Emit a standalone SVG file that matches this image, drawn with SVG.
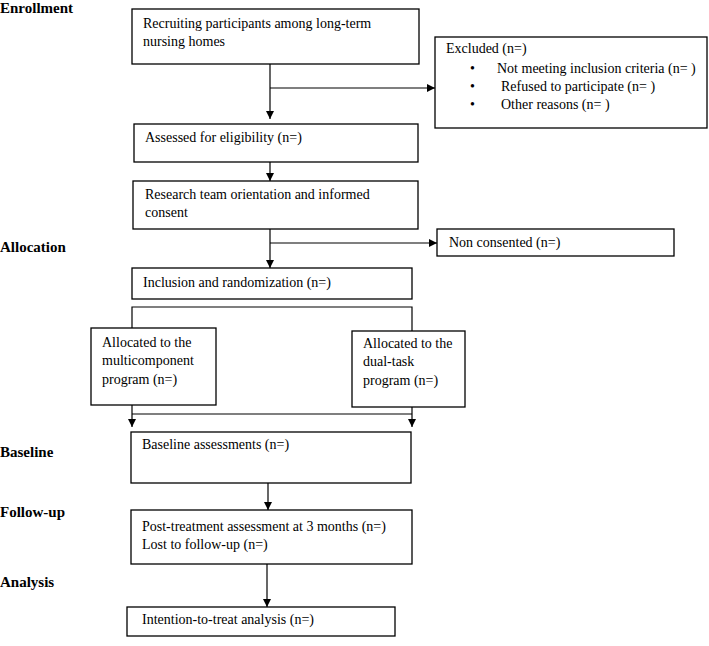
<svg xmlns="http://www.w3.org/2000/svg" width="709" height="646" viewBox="0 0 709 646">
<style>
.box{fill:#fff;stroke:#000;stroke-width:1.3}
.t{font-family:"Liberation Serif","Times New Roman",serif;font-size:14px;fill:#000}
.h{font-family:"Liberation Serif","Times New Roman",serif;font-size:15px;font-weight:bold;fill:#000}
.c{fill:none;stroke:#000;stroke-width:1.2}
</style>
<defs>
<marker id="ah" markerUnits="userSpaceOnUse" markerWidth="9" markerHeight="9" refX="8" refY="4" orient="auto">
<path d="M0,0 L8,4 L0,8 z" fill="#000"/>
</marker>
</defs>
<rect width="709" height="646" fill="#fff"/>
<g id="labels">
<text class="h" x="0" y="13">Enrollment</text>
<text class="h" x="0" y="252">Allocation</text>
<text class="h" x="0" y="457">Baseline</text>
<text class="h" x="0" y="517">Follow-up</text>
<text class="h" x="0" y="587">Analysis</text>
</g>
<g id="connectors">
<line class="c" x1="270" y1="64" x2="270" y2="119" marker-end="url(#ah)"/>
<line class="c" x1="270" y1="88" x2="435" y2="88" marker-end="url(#ah)"/>
<line class="c" x1="270" y1="162" x2="270" y2="181" marker-end="url(#ah)"/>
<line class="c" x1="270" y1="229" x2="270" y2="268" marker-end="url(#ah)"/>
<line class="c" x1="270" y1="243" x2="437" y2="243" marker-end="url(#ah)"/>
<path class="c" d="M132,328 V307 H412 V331"/>
<line class="c" x1="132" y1="414" x2="412" y2="414"/>
<line class="c" x1="132" y1="405" x2="132" y2="427" marker-end="url(#ah)"/>
<line class="c" x1="412" y1="407" x2="412" y2="427" marker-end="url(#ah)"/>
<line class="c" x1="268" y1="483" x2="268" y2="510" marker-end="url(#ah)"/>
<line class="c" x1="267" y1="564" x2="267" y2="607" marker-end="url(#ah)"/>
</g>
<g id="recruit">
<rect class="box" x="132" y="9" width="287" height="55"/>
<text class="t" x="143" y="28">Recruiting participants among long-term</text>
<text class="t" x="143" y="46">nursing homes</text>
</g>
<g id="excluded">
<rect class="box" x="435" y="37" width="272" height="91"/>
<text class="t" x="446" y="53">Excluded (n=)</text>
<text class="t" x="470" y="73">•</text>
<text class="t" x="497" y="73">Not meeting inclusion criteria (n= )</text>
<text class="t" x="470" y="91">•</text>
<text class="t" x="501" y="91">Refused to participate (n=  )</text>
<text class="t" x="470" y="109">•</text>
<text class="t" x="501" y="109">Other reasons (n= )</text>
</g>
<g id="assessed">
<rect class="box" x="134" y="124" width="284" height="38"/>
<text class="t" x="145" y="142">Assessed for eligibility (n=)</text>
</g>
<g id="research">
<rect class="box" x="133" y="181" width="285" height="48"/>
<text class="t" x="145" y="199">Research team orientation and informed</text>
<text class="t" x="145" y="217">consent</text>
</g>
<g id="nonconsented">
<rect class="box" x="437" y="229" width="237" height="27"/>
<text class="t" x="449" y="247">Non consented (n=)</text>
</g>
<g id="inclusion">
<rect class="box" x="132" y="268" width="280" height="31"/>
<text class="t" x="143" y="287">Inclusion and randomization (n=)</text>
</g>
<g id="multicomponent">
<rect class="box" x="91" y="328" width="125" height="77"/>
<text class="t" x="102" y="347">Allocated to the</text>
<text class="t" x="102" y="365">multicomponent</text>
<text class="t" x="102" y="384">program (n=)</text>
</g>
<g id="dualtask">
<rect class="box" x="352" y="331" width="113" height="76"/>
<text class="t" x="363" y="348">Allocated to the</text>
<text class="t" x="363" y="366">dual-task</text>
<text class="t" x="363" y="385">program (n=)</text>
</g>
<g id="baseline">
<rect class="box" x="131" y="432" width="280" height="51"/>
<text class="t" x="142" y="449">Baseline assessments (n=)</text>
</g>
<g id="posttreatment">
<rect class="box" x="131" y="510" width="281" height="54"/>
<text class="t" x="142" y="531">Post-treatment assessment at 3 months (n=)</text>
<text class="t" x="142" y="549">Lost to follow-up (n=)</text>
</g>
<g id="itt">
<rect class="box" x="127" y="607" width="268" height="29"/>
<text class="t" x="142" y="624">Intention-to-treat analysis (n=)</text>
</g>
</svg>
